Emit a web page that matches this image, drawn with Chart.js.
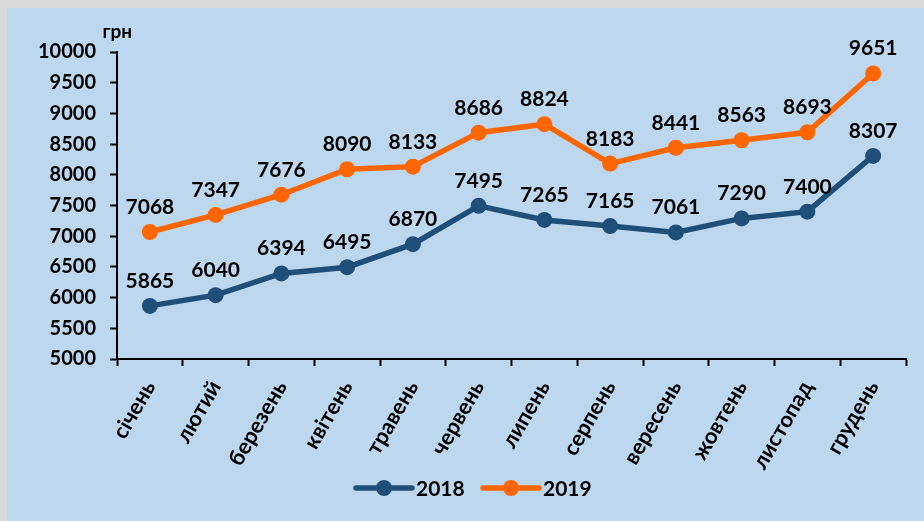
<!DOCTYPE html>
<html>
<head>
<meta charset="utf-8">
<script src="https://cdn.jsdelivr.net/npm/chart.js@4"></script>
<style>
  body { margin: 0; background: #d9d9d9; }
  #box { position: absolute; left: 7px; top: 8px; width: 917px; height: 513px; background: #bdd7ee; }
</style>
</head>
<body>
<div id="box"><canvas id="grafik" width="917" height="513"></canvas></div>
<script>
const misyatsi = ["січень", "лютий", "березень", "квітень", "травень", "червень",
  "липень", "серпень", "вересень", "жовтень", "листопад", "грудень"];
const zp2018 = [5865, 6040, 6394, 6495, 6870, 7495, 7265, 7165, 7061, 7290, 7400, 8307];
const zp2019 = [7068, 7347, 7676, 8090, 8133, 8686, 8824, 8183, 8441, 8563, 8693, 9651];
const roky = ["2018", "2019"];
const odynytsya = "грн";

const shryft = "Lato, 'Open Sans', sans-serif";

// pidpysy nad tochkamy, odynytsya i legenda
const pidpysy = {
  id: "pidpysy",
  afterDatasetsDraw(chart) {
    const ctx = chart.ctx;
    ctx.save();
    ctx.fillStyle = "#000";
    ctx.font = "bold 21px " + shryft;
    ctx.textAlign = "center";
    ctx.textBaseline = "alphabetic";
    chart.data.datasets.forEach(function (ds, i) {
      chart.getDatasetMeta(i).data.forEach(function (pt, j) {
        ctx.fillText(ds.data[j], pt.x, pt.y - 18);
      });
    });

    // odynytsya
    ctx.textAlign = "right";
    ctx.textBaseline = "middle";
    ctx.font = "bold 19px " + shryft;
    ctx.fillText(odynytsya, 125, 24);

    // legenda
    let x = 349;
    const y = 480;
    chart.data.datasets.forEach(function (ds) {
      ctx.strokeStyle = ds.borderColor;
      ctx.fillStyle = ds.borderColor;
      ctx.lineWidth = 5.5;
      ctx.lineCap = "round";
      ctx.beginPath();
      ctx.moveTo(x, y);
      ctx.lineTo(x + 56, y);
      ctx.stroke();
      ctx.beginPath();
      ctx.arc(x + 28, y, 8, 0, Math.PI * 2);
      ctx.fill();
      ctx.fillStyle = "#000";
      ctx.textAlign = "left";
      ctx.font = "bold 21px " + shryft;
      ctx.fillText(ds.label, x + 60, y + 1);
      x += 127;
    });
    ctx.restore();
  },
};

new Chart(document.getElementById("grafik"), {
  type: "line",
  data: {
    labels: misyatsi,
    datasets: [
      {
        label: roky[0],
        data: zp2018,
        borderColor: "#1f4e79",
        backgroundColor: "#1f4e79",
        borderWidth: 5.5,
        pointRadius: 8,
        pointBorderWidth: 0,
        tension: 0,
      },
      {
        label: roky[1],
        data: zp2019,
        borderColor: "#ff6600",
        backgroundColor: "#ff6600",
        borderWidth: 5.5,
        pointRadius: 8,
        pointBorderWidth: 0,
        tension: 0,
      },
    ],
  },
  options: {
    responsive: false,
    animation: false,
    layout: { padding: { top: 44, right: 18, left: 0, bottom: 0 } },
    plugins: {
      legend: { display: false },
      tooltip: { enabled: false },
    },
    scales: {
      x: {
        offset: true,
        grid: {
          offset: true,
          drawOnChartArea: false,
          color: "#000",
          tickLength: 7,
          tickWidth: 2,
        },
        border: { display: true, color: "#000", width: 2 },
        ticks: {
          color: "#000",
          font: { family: shryft, size: 22, weight: "bold" },
          maxRotation: 60,
          minRotation: 60,
          padding: 10,
          autoSkip: false,
        },
        afterFit(scale) {
          scale.height = 162;
        },
      },
      y: {
        min: 5000,
        max: 10000,
        grid: {
          drawOnChartArea: false,
          color: "#000",
          tickLength: 7,
          tickWidth: 2,
        },
        border: { display: true, color: "#000", width: 2 },
        ticks: {
          stepSize: 500,
          color: "#000",
          font: { family: shryft, size: 20, weight: "bold" },
          padding: 14,
          callback: function (v) {
            return String(v);
          },
        },
        afterFit(scale) {
          scale.width = 110;
        },
      },
    },
  },
  plugins: [pidpysy],
});
</script>
</body>
</html>
